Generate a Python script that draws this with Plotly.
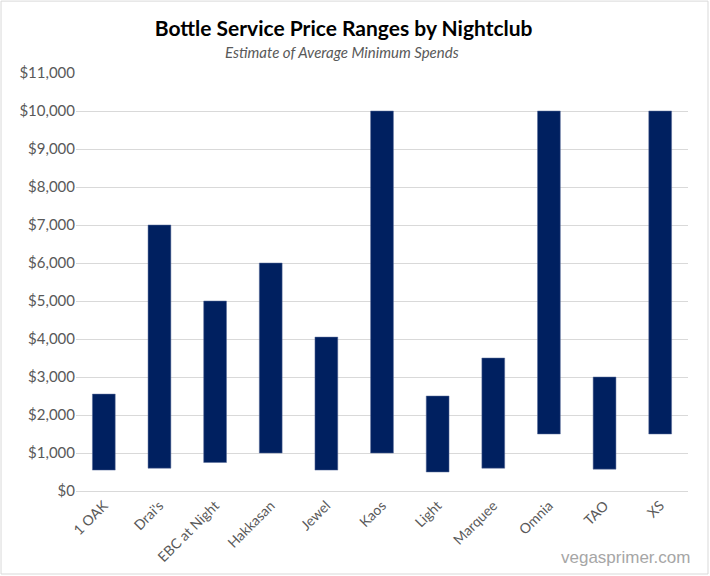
import plotly.graph_objects as go

clubs = ["1 OAK", "Drai's", "EBC at Night", "Hakkasan", "Jewel", "Kaos",
         "Light", "Marquee", "Omnia", "TAO", "XS"]
low_spend = [550, 600, 750, 1000, 550, 1000, 500, 600, 1500, 575, 1500]
high_spend = [2550, 7000, 5000, 6000, 4050, 10000, 2500, 3500, 10000, 3000, 10000]
y_ticks = list(range(0, 11001, 1000))
y_tick_labels = ["${:,}".format(v) for v in y_ticks]

spans = [h - l for h, l in zip(high_spend, low_spend)]

fig = go.Figure()
fig.add_trace(go.Bar(
    x=clubs, y=spans, base=low_spend,
    marker=dict(color="#002060", line=dict(color="#5a6d9a", width=0.5)),
    hovertemplate="%{x}: $%{base:,} - $%{customdata:,}<extra></extra>",
    customdata=high_spend,
))

fig.update_layout(
    width=710, height=576,
    margin=dict(l=76, r=22, t=73, b=85),
    paper_bgcolor="white", plot_bgcolor="white",
    bargap=0.59,
    showlegend=False,
    font=dict(family="Lato, 'Open Sans', sans-serif", color="#595959"),
    title=dict(
        text="<b>Bottle Service Price Ranges by Nightclub</b>",
        x=0.484, xanchor="center", y=0.951, yanchor="middle",
        font=dict(size=21, color="black", family="Lato, 'Open Sans', sans-serif"),
    ),
    xaxis=dict(
        tickangle=-45, tickfont=dict(size=14, color="#595959"),
        showgrid=False, showline=True, linecolor="#d9d9d9",
        ticks="", range=[-0.5, 10.5],
    ),
    yaxis=dict(
        range=[0, 11000], tickvals=y_ticks, ticktext=y_tick_labels,
        tickfont=dict(size=15, color="#595959"),
        showgrid=True, gridcolor="#d9d9d9", gridwidth=1,
        zeroline=False, ticks="", showline=False,
    ),
    shapes=[dict(
        type="rect", xref="paper", yref="paper",
        x0=-0.1225, x1=1.0327, y0=-0.1986, y1=1.172,
        line=dict(color="#d9d9d9", width=1), fillcolor="rgba(0,0,0,0)",
        layer="below",
    )],
    annotations=[
        dict(text="<i>Estimate of Average Minimum Spends</i>",
             xref="paper", yref="paper", x=0.434, y=1.05,
             xanchor="center", yanchor="middle", showarrow=False,
             font=dict(size=15, color="#595959")),
        dict(text="vegasprimer.com",
             xref="paper", yref="paper", x=1.0065, y=-0.158,
             xanchor="right", yanchor="middle", showarrow=False,
             font=dict(size=17, color="#a6a6a6", family="Liberation Sans, Arial, sans-serif")),
    ],
)

fig.write_html("out.html", config={"displayModeBar": False},
               post_script="document.body.style.margin='0';document.body.style.padding='0';")
